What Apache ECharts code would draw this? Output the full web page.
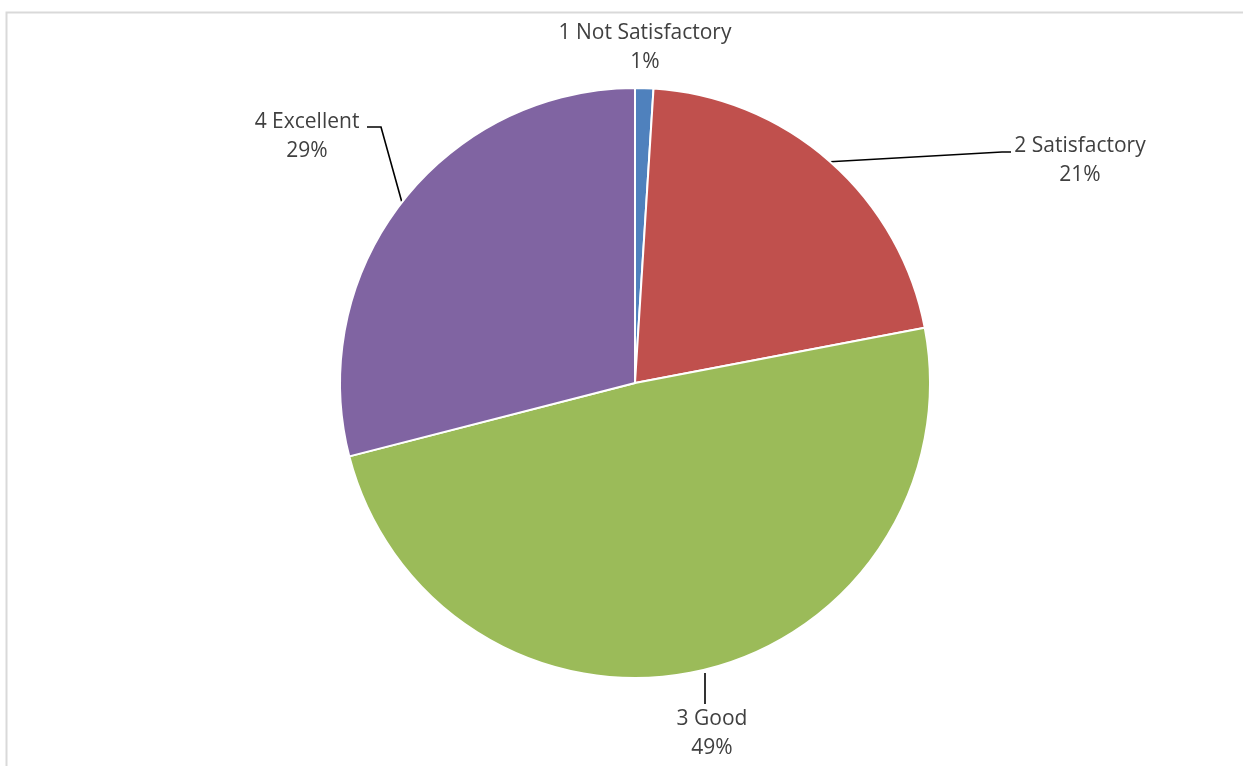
<!DOCTYPE html>
<html>
<head>
<meta charset="utf-8">
<script src="https://cdn.jsdelivr.net/npm/echarts@6/dist/echarts.min.js"></script>
<style>
html,body{margin:0;padding:0;background:#fff;}
#chart{width:1243px;height:766px;}
</style>
</head>
<body>
<div id="chart"></div>
<script>
const categories = ['1 Not Satisfactory', '2 Satisfactory', '3 Good', '4 Excellent'];
const values = [1, 21, 49, 29];
const colors = ['#4F81BD', '#C0504D', '#9BBB59', '#8064A2'];

// label anchor positions (layout only)
const labelPos = [
  {x: 645, y: 48, start: null, line: null},
  {x: 1080, y: 161, start: null, line: [[1002, 152], [1011, 152]]},
  {x: 712, y: 734, start: [705, 673], line: [[705, 690], [705, 704]]},
  {x: 307, y: 137, start: null, line: [[381, 127], [367, 127]]}
];

const chart = echarts.init(document.getElementById('chart'), null, {renderer: 'canvas'});
chart.setOption({
  backgroundColor: '#ffffff',
  animation: false,
  graphic: [{
    type: 'rect',
    shape: {x: 6.5, y: 12.5, width: 1300, height: 800},
    style: {fill: 'none', stroke: '#d9d9d9', lineWidth: 2},
    silent: true
  }],
  series: [{
    type: 'pie',
    center: [635, 383],
    radius: [0, 295],
    startAngle: 90,
    clockwise: true,
    percentPrecision: 0,
    avoidLabelOverlap: false,
    data: categories.map((c, i) => ({
      name: c,
      value: values[i],
      itemStyle: {color: colors[i]},
      labelLine: {show: i !== 0}
    })),
    itemStyle: {borderColor: '#ffffff', borderWidth: 2},
    label: {
      show: true,
      formatter: '{b}\n{d}%',
      color: '#404040',
      fontFamily: 'Open Sans',
      fontSize: 21,
      lineHeight: 29,
      align: 'center'
    },
    labelLine: {
      show: true,
      smooth: false,
      lineStyle: {color: '#000000', width: 1.6}
    },
    labelLayout: function (params) {
      const p = labelPos[params.dataIndex];
      const res = {x: p.x, y: p.y, align: 'center', verticalAlign: 'middle'};
      if (p.line && params.labelLinePoints) {
        const s = p.start || params.labelLinePoints[0];
        res.labelLinePoints = [s, p.line[0], p.line[1]];
      }
      return res;
    }
  }]
});
</script>
</body>
</html>
